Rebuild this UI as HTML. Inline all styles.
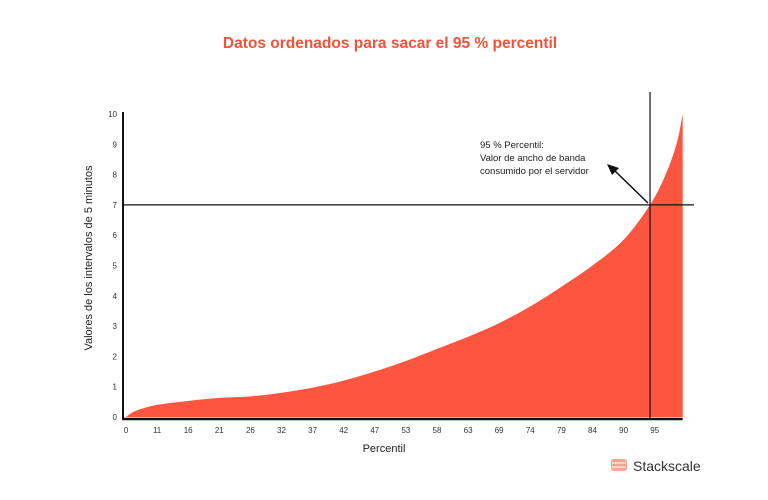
<!DOCTYPE html>
<html><head><meta charset="utf-8"><style>
body{margin:0;background:#fff;width:768px;height:495px;overflow:hidden;font-family:"Liberation Sans",sans-serif}
</style></head><body>
<svg width="768" height="495" viewBox="0 0 768 495">
<text x="390" y="48" text-anchor="middle" font-size="15.5" font-weight="bold" fill="#f0533a">Datos ordenados para sacar el 95 % percentil</text>
<g id="plot"></g>
<text x="384" y="452" text-anchor="middle" font-size="11" fill="#222">Percentil</text>
<text transform="translate(92,258) rotate(-90)" text-anchor="middle" font-size="11" fill="#222">Valores de los intervalos de 5 minutos</text>
<g>
<text x="480" y="148" font-size="9.5" fill="#222">95 % Percentil:</text>
<text x="480" y="161" font-size="9.5" fill="#222">Valor de ancho de banda</text>
<text x="480" y="174" font-size="9.5" fill="#222">consumido por el servidor</text>
<line x1="648" y1="203" x2="614" y2="170" stroke="#111" stroke-width="1.5"/>
<polygon points="607,164 619,168 612,175" fill="#111"/>
</g>
<g>
<rect x="611" y="459" width="16" height="12" rx="3" fill="#f7a493"/>
<line x1="612" y1="463" x2="626" y2="463" stroke="#fff" stroke-width="1"/>
<line x1="612" y1="467" x2="626" y2="467" stroke="#fff" stroke-width="1"/>
<text x="633" y="471" font-size="14" fill="#333">Stackscale</text>
</g>
</svg>
<script>
const xLabels=["0","11","16","21","26","32","37","42","47","53","58","63","69","74","79","84","90","95"];
const yTicks=[0,1,2,3,4,5,6,7,8,9,10];
const curveIdx=[0,0.3,1,2,3,4,5,6,7,8,9,10,11,12,13,14,15,16,16.85,17.35,17.7,17.9];
const curveVal=[0,0.2,0.4,0.53,0.63,0.68,0.8,0.97,1.2,1.5,1.85,2.25,2.65,3.1,3.65,4.3,5.0,5.85,7,8,9,10];
const markIdx=16.85, markVal=7;
const sx=i=>126+i*31.1, sy=v=>417-v*30.3;
const g=document.getElementById('plot'),NS='http://www.w3.org/2000/svg';
function mk(t,a){const e=document.createElementNS(NS,t);for(const k in a)e.setAttribute(k,a[k]);g.appendChild(e);return e;}
const P=curveIdx.map((c,i)=>[sx(c),sy(curveVal[i])]);
let d='M'+P[0][0]+','+P[0][1];
for(let i=0;i<P.length-1;i++){
  const p0=P[Math.max(0,i-1)],p1=P[i],p2=P[i+1],p3=P[Math.min(P.length-1,i+2)];
  const c1=[p1[0]+(p2[0]-p0[0])/6,p1[1]+(p2[1]-p0[1])/6];
  const c2=[p2[0]-(p3[0]-p1[0])/6,p2[1]-(p3[1]-p1[1])/6];
  d+=' C'+c1[0]+','+c1[1]+' '+c2[0]+','+c2[1]+' '+p2[0]+','+p2[1];
}
d+=' L'+P[P.length-1][0]+','+sy(0)+' L'+P[0][0]+','+sy(0)+' Z';
const area=mk('path',{d:d,fill:'#fc5640'});


const hl=mk('line',{x1:123,x2:694,y1:sy(markVal),y2:sy(markVal),stroke:'#111','stroke-width':1.2});


const vl=mk('line',{x1:sx(markIdx),x2:sx(markIdx),y1:92,y2:419,stroke:'#111','stroke-width':1.2});


const ya=mk('line',{x1:123,x2:123,y1:112,y2:420,stroke:'#111','stroke-width':2});


const xa=mk('line',{x1:122,x2:sx(17.9),y1:419,y2:419,stroke:'#111','stroke-width':2.5});


yTicks.forEach(v=>{const t=mk('text',{x:117,y:sy(v)+3,'text-anchor':'end','font-size':8,fill:'#333'});t.textContent=v;

});
xLabels.forEach((l,i)=>{const t=mk('text',{x:sx(i),y:433,'text-anchor':'middle','font-size':8,fill:'#333'});t.textContent=l;

});
</script>
</body></html>
